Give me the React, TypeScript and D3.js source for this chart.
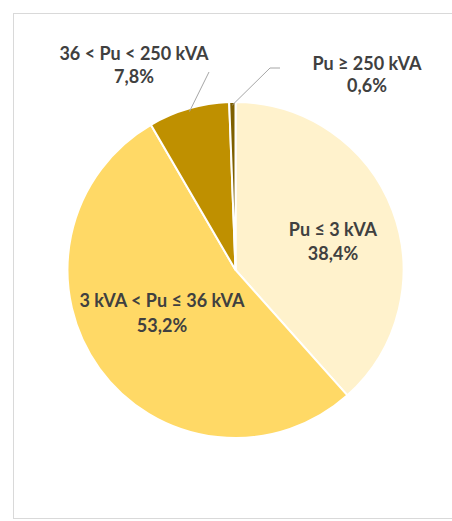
import React from "react";
import * as d3 from "d3";

// ---- data ----
const categories = ["Pu ≤ 3 kVA", "3 kVA < Pu ≤ 36 kVA", "36 < Pu < 250 kVA", "Pu ≥ 250 kVA"];
const values = [38.4, 53.2, 7.8, 0.6];
const valueLabels = ["38,4%", "53,2%", "7,8%", "0,6%"];
const colors = ["#FFF2CC", "#FFD966", "#BF9000", "#7F6000"];

// ---- layout ----
const W = 452;
const H = 521;
const CX = 235.5;
const CY = 270;
const R = 168;
const FONT = "Lato, 'Open Sans', sans-serif";
// label anchor (center x, first baseline y, line gap) and optional leader elbow
const labelLayout = [
  { x: 333, y: 236, gap: 24, leader: null as null | number[][] },
  { x: 162, y: 307, gap: 25, leader: null },
  { x: 134, y: 60, gap: 23, leader: [[209, 72]] },
  { x: 367, y: 70, gap: 22, leader: [[270, 68], [280, 68]] },
];

export default function App() {
  const pie = d3.pie<number>().sort(null).value((d) => d);
  const arcs = pie(values);
  const arc = d3.arc<d3.PieArcDatum<number>>().innerRadius(0).outerRadius(R);
  const edgeArc = d3.arc<d3.PieArcDatum<number>>().innerRadius(R - 3).outerRadius(R - 3);

  return (
    <svg
      width={W}
      height={H}
      style={{ position: "absolute", left: 0, top: 0, background: "#fff" }}
    >
      <rect x={13.5} y={13.5} width={460} height={505} fill="#fff" stroke="#D9D9D9" strokeWidth={1} />
      <g transform={`translate(${CX},${CY})`}>
        {arcs.map((a, i) => (
          <path key={i} d={arc(a) || ""} fill={colors[i]} stroke="#fff" strokeWidth={2} />
        ))}
      </g>
      {arcs.map((a, i) => {
        const L = labelLayout[i];
        if (!L.leader) return null;
        const [ex, ey] = edgeArc.centroid(a);
        const pts = [[CX + ex, CY + ey], ...L.leader];
        const line = d3.line()(pts as [number, number][]) || "";
        return <path key={"l" + i} d={line} fill="none" stroke="#A6A6A6" strokeWidth={1} />;
      })}
      {categories.map((c, i) => {
        const L = labelLayout[i];
        return (
          <text
            key={"t" + i}
            x={L.x}
            y={L.y}
            textAnchor="middle"
            fontFamily={FONT}
            fontWeight="bold"
            fontSize={18}
            fill="#404040"
          >
            <tspan x={L.x}>{c}</tspan>
            <tspan x={L.x} dy={L.gap}>{valueLabels[i]}</tspan>
          </text>
        );
      })}
    </svg>
  );
}
